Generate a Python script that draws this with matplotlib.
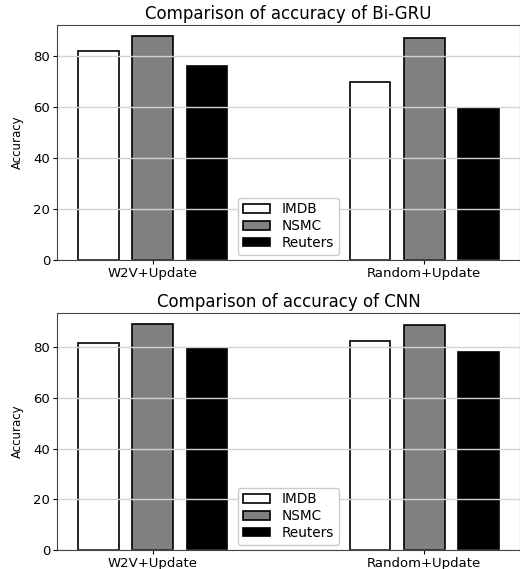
import numpy as np
import matplotlib
matplotlib.use('Agg')
import matplotlib.pyplot as plt

methods = ['W2V+Update', 'Random+Update']
datasets = ['IMDB', 'NSMC', 'Reuters']
colors = ['white', 'grey', 'black']

# accuracy per dataset, one value per method
bigru_imdb = [81.9, 70.1]
bigru_nsmc = [87.9, 87.0]
bigru_reuters = [76.1, 59.6]

cnn_imdb = [81.6, 82.6]
cnn_nsmc = [89.0, 88.6]
cnn_reuters = [79.7, 78.0]


def draw(ax, vals, title):
    x = np.arange(len(methods))
    for i, (v, c) in enumerate(zip(vals, colors)):
        ax.bar(x + (i - 1) * 0.2, v, width=0.15, color=c, edgecolor='black',
               linewidth=1.2, label=datasets[i])
    ax.set_xticks(x)
    ax.set_xticklabels(methods)
    ax.tick_params(labelsize=9.5, length=3, pad=2)
    ax.set_yticks([0, 20, 40, 60, 80])
    ax.yaxis.grid(True, color='lightgrey', linewidth=1)
    ax.set_ylabel('Accuracy', fontsize=8.5, family='Liberation Sans Narrow', labelpad=7)
    ax.set_title(title, fontsize=12, pad=4)
    for s in ax.spines.values():
        s.set_color('#444444')
    ax.legend(loc='lower center', fontsize=9.8, handlelength=2.0,
              handleheight=0.6, borderpad=0.35, labelspacing=0.2,
              borderaxespad=0.4, framealpha=1)


fig = plt.figure(figsize=(5.2, 5.69), dpi=100)
ax1 = fig.add_axes([57 / 520, 1 - 260 / 569, 463 / 520, 235 / 569])
ax2 = fig.add_axes([57 / 520, 1 - 550 / 569, 463 / 520, 237 / 569])
draw(ax1, [bigru_imdb, bigru_nsmc, bigru_reuters], 'Comparison of accuracy of Bi-GRU')
draw(ax2, [cnn_imdb, cnn_nsmc, cnn_reuters], 'Comparison of accuracy of CNN')
fig.savefig('out.png', dpi=100)
